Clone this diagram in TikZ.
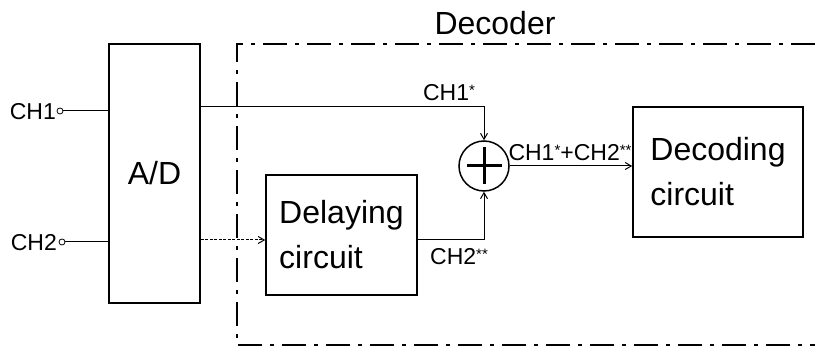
\documentclass[tikz,border=0pt]{standalone}
\usepackage{fontspec}
\setmainfont{Liberation Sans}
\usetikzlibrary{arrows.meta}
\newcommand\sst[1]{\raisebox{5pt}{\fontsize{15pt}{15pt}\selectfont #1}}
\begin{document}
\begin{tikzpicture}[x=1pt,y=-1pt,
  box/.style={draw, line width=1.6pt, inner sep=0pt},
  bigtxt/.style={font=\fontsize{32pt}{45pt}\selectfont},
  lbl/.style={font=\fontsize{23pt}{24pt}\selectfont, inner sep=0pt},
  term/.style={draw, circle, line width=0.8pt, inner sep=0pt, minimum size=6pt},
  conn/.style={line width=1pt},
  arr/.style={conn, -{Straight Barb[length=6pt,width=7pt]}},
  dashdotbox/.style={line width=2.4pt, dash pattern=on 24pt off 8pt on 4pt off 8pt},
  fine/.style={dash pattern=on 3pt off 1.5pt}]
\useasboundingbox (0,0) rectangle (815,347);
% Decoder frame
\coordinate (fr1) at (815,44);
\coordinate (fr2) at (237,44);
\coordinate (fr3) at (237,345);
\coordinate (fr4) at (815,345);
\draw[dashdotbox] (fr1) -- (fr2) -- (fr3) -- (fr4);
\node[font=\fontsize{32pt}{34pt}\selectfont] (declbl) at (495,23) {Decoder};
% blocks
\node[box, bigtxt, minimum width=91pt, minimum height=259pt] (ad) at (154.5,173.5) {A/D};
\node[box, bigtxt, align=left, minimum width=151pt, minimum height=120pt] (del) at (341.5,235) {Delaying\\circuit};
\node[box, bigtxt, align=left, minimum width=170pt, minimum height=130pt] (dec) at (718,172) {Decoding\\circuit};
\node[draw, circle, line width=1.5pt, minimum size=50pt, inner sep=0pt] (sum) at (484,166) {};
\draw[line width=3pt] ([xshift=-17pt]sum.center) -- ([xshift=18pt]sum.center);
\draw[line width=3pt] ([yshift=-18pt]sum.center) -- ([yshift=19pt]sum.center);
% inputs
\node[lbl, anchor=east] (ch1) at (56,112) {CH1};
\node[lbl, anchor=east] (ch2) at (57,243) {CH2};
\node[term] (t1) at (60,111) {};
\node[term] (t2) at (62,242) {};
\draw[conn] (t1) -- (t1 -| ad.west);
\draw[conn] (t2) -- (t2 -| ad.west);
% connectors
\draw[arr] (ad.east |- 0,107) -| (sum.north);
\draw[arr] (del.east |- 0,240) -| (sum.south);
\draw[arr, fine] (ad.east |- 0,240) -- (del.west |- 0,240);
\draw[arr] (sum.east) -- (sum.east -| dec.west);
% labels
\node[lbl] (l1) at (449,93) {CH1\sst{*}};
\node[lbl] (l2) at (570,153) {CH1\sst{*}+CH2\sst{**}};
\node[lbl] (l3) at (459,257) {CH2\sst{**}};
\end{tikzpicture}
\end{document}
